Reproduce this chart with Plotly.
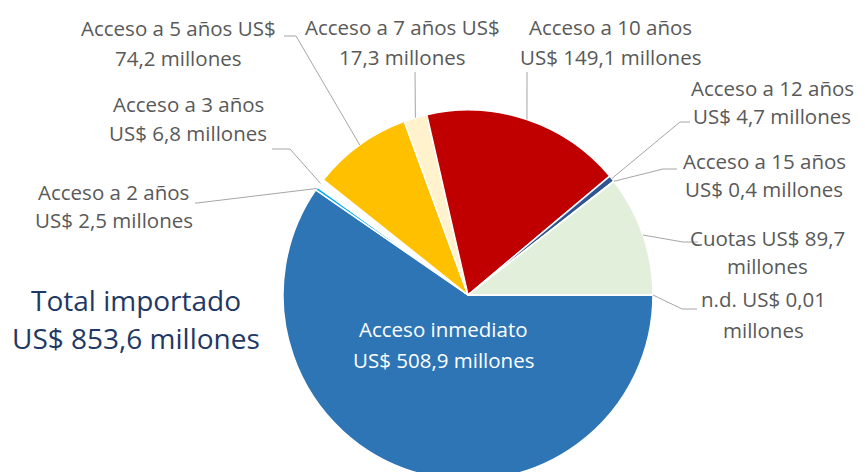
import math
import plotly.graph_objects as go

# ---------------- data ----------------
categories = ["Acceso inmediato", "Acceso a 2 años", "Acceso a 3 años", "Acceso a 5 años",
              "Acceso a 7 años", "Acceso a 10 años", "Acceso a 12 años", "Acceso a 15 años",
              "Cuotas", "n.d."]
values = [508.9, 2.5, 6.8, 74.2, 17.3, 149.1, 4.7, 0.4, 89.7, 0.01]
label_lines = [
    ["Acceso inmediato", "US$ 508,9 millones"],
    ["Acceso a 2 años", "US$ 2,5 millones"],
    ["Acceso a 3 años", "US$ 6,8 millones"],
    ["Acceso a 5 años US$", "74,2 millones"],
    ["Acceso a 7 años US$", "17,3 millones"],
    ["Acceso a 10 años", "US$ 149,1 millones"],
    ["Acceso a 12 años", "US$ 4,7 millones"],
    ["Acceso a 15 años", "US$ 0,4 millones"],
    ["Cuotas US$ 89,7", "millones"],
    ["n.d. US$ 0,01", "millones"],
]
total_lines = ["Total importado", "US$ 853,6 millones"]
colors = ["#2E75B6", "#00B0F0", "#FFFFFF", "#FFC000", "#FFF2CC",
          "#C00000", "#2F5597", "#7F7F7F", "#E2EFDA", "#FFFFFF"]

# ---------------- layout geometry (pixels) ----------------
W, H = 865, 482          # page window is 472 tall: the pie bottom is clipped as in the reference
CX, CY, R = 468, 295, 185
ROT = 90
# label: (center x, first line y, line spacing)
label_pos = [
    (444, 329, 31),
    (114, 192, 28),
    (188, 104, 29),
    (178, 28, 30),
    (402, 27, 30),
    (610, 27, 30),
    (772, 88, 28),
    (764, 161, 28),
    (767, 238, 28),
    (763, 299, 31),
]
# leader (bend point, end point) or None
leaders = [
    None,
    ((197, 203), (195, 203)),
    ((290, 149), (272, 149)),
    ((296, 36), (284, 36)),
    ((415, 72), (415, 72)),
    ((527, 72), (527, 72)),
    ((680, 122), (690, 122)),
    ((663, 169), (677, 169)),
    ((683, 242), (698, 242)),
    ((682, 309), (697, 309)),
]

def px(x):
    return x / W

def py(y):
    return 1 - y / H

fig = go.Figure(go.Pie(
    labels=categories,
    values=values,
    sort=False,
    direction="clockwise",
    rotation=ROT,
    marker=dict(colors=colors, line=dict(color="white", width=1.5)),
    textinfo="none",
    hoverinfo="label+value",
    domain=dict(x=[px(CX - R), px(CX + R)], y=[py(CY + R), py(CY - R)]),
    showlegend=False,
))

total = sum(values)
cum = 0.0
annotations = []
shapes = []
font_family = "'Open Sans', sans-serif"
for i, (cat, v) in enumerate(zip(categories, values)):
    mid = ROT + (cum + v / 2) / total * 360
    cum += v
    xc, y0, sp = label_pos[i]
    col = "white" if i == 0 else "#595959"
    for j, line in enumerate(label_lines[i]):
        annotations.append(dict(
            x=px(xc), y=py(y0 + j * sp), xref="paper", yref="paper",
            text=line, showarrow=False, xanchor="center", yanchor="middle",
            font=dict(family=font_family, size=20.5, color=col)))
    if leaders[i] is not None:
        a = math.radians(mid)
        ex = CX + R * math.sin(a)
        ey = CY - R * math.cos(a)
        (bx, by), (tx, ty) = leaders[i]
        path = f"M {px(ex)},{py(ey)} L {px(bx)},{py(by)} L {px(tx)},{py(ty)}"
        shapes.append(dict(type="path", xref="paper", yref="paper", path=path,
                           line=dict(color="#A6A6A6", width=1)))

for j, line in enumerate(total_lines):
    annotations.append(dict(
        x=px(136), y=py(300 + j * 38), xref="paper", yref="paper",
        text=line, showarrow=False, xanchor="center", yanchor="middle",
        font=dict(family=font_family, size=28, color="#1F3864")))

fig.update_layout(
    width=W, height=H,
    margin=dict(l=0, r=0, t=0, b=0),
    paper_bgcolor="white", plot_bgcolor="white",
    annotations=annotations, shapes=shapes,
)

fig.write_html(
    "out.html",
    config={"displayModeBar": False},
    post_script="document.body.style.margin='0';document.body.style.overflow='hidden';",
)
